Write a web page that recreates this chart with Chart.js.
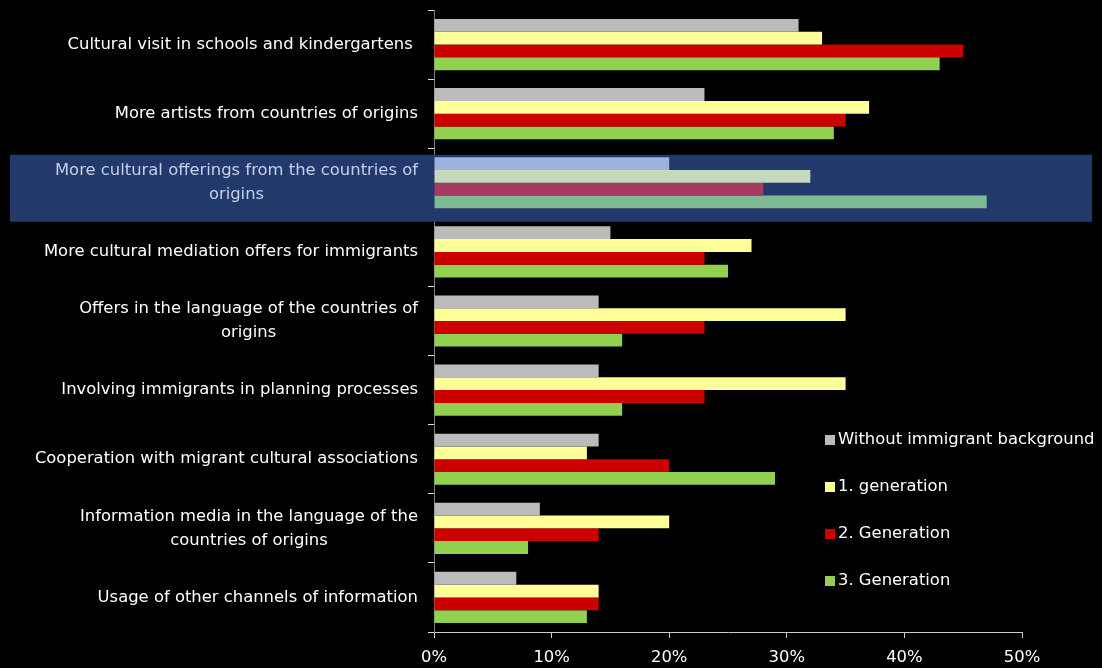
<!DOCTYPE html>
<html>
<head>
<meta charset="UTF-8" />
<script src="https://cdn.jsdelivr.net/npm/chart.js"></script>
<style>
  html, body { margin: 0; padding: 0; background: #000; }
  canvas { display: block; }
</style>
</head>
<body>
<canvas id="myChart" width="1102" height="668"></canvas>
<script>
  const categories = [
    ["Cultural visit in schools and kindergartens "],
    ["More artists from countries of origins"],
    ["More cultural offerings from the countries of", "origins"],
    ["More cultural mediation offers for immigrants"],
    ["Offers in the language of the countries of", "origins"],
    ["Involving immigrants in planning processes"],
    ["Cooperation with migrant cultural associations"],
    ["Information media in the language of the", "countries of origins"],
    ["Usage of other channels of information"],
  ];
  const seriesNames = ["Without immigrant background", "1. generation", "2. Generation", "3. Generation"];
  const withoutBackground = [31, 23, 20, 15, 14, 14, 14, 9, 7];
  const firstGeneration = [33, 37, 32, 27, 35, 35, 13, 20, 14];
  const secondGeneration = [45, 35, 28, 23, 23, 23, 20, 14, 14];
  const thirdGeneration = [43, 34, 47, 25, 16, 16, 29, 8, 13];
  const xTicks = [0, 10, 20, 30, 40, 50];

  const highlighted = 2;
  const baseColors = ["#bbbbbb", "#ffff99", "#cc0000", "#92d050"];
  const highlightColors = ["#9fb2dd", "#c6d9bf", "#a63a5f", "#7fbb92"];
  const FONT = "'DejaVu Sans', Verdana, sans-serif";
  const FONT_SIZE = 16.4;

  function colorsFor(i) {
    return categories.map((_, c) => (c === highlighted ? highlightColors[i] : baseColors[i]));
  }

  const values = [withoutBackground, firstGeneration, secondGeneration, thirdGeneration];

  // dark band behind the highlighted category
  const highlightBand = {
    id: "highlightBand",
    beforeDatasetsDraw(chart) {
      const y = chart.scales.y;
      const cy = y.getPixelForValue(highlighted);
      const ctx = chart.ctx;
      ctx.save();
      ctx.fillStyle = "#22396b";
      ctx.fillRect(10, cy - 28, 1082, 67);
      ctx.restore();
    },
  };

  // category labels: block right-aligned, lines centred inside the block
  const categoryLabels = {
    id: "categoryLabels",
    afterDraw(chart) {
      const y = chart.scales.y;
      const ctx = chart.ctx;
      ctx.save();
      ctx.font = FONT_SIZE + "px " + FONT;
      ctx.textBaseline = "middle";
      ctx.textAlign = "center";
      const right = 418;
      const lineH = 24;
      categories.forEach((lines, i) => {
        const cy = y.getPixelForTick(i);
        const w = Math.max(...lines.map(l => ctx.measureText(l).width));
        const cx = right - w / 2;
        ctx.fillStyle = i === highlighted ? "#c5cfe8" : "#ffffff";
        lines.forEach((l, k) => {
          ctx.fillText(l, cx, cy + (k - (lines.length - 1) / 2) * lineH);
        });
      });
      ctx.restore();
    },
  };

  // legend placed inside the plot, lower right
  const sideLegend = {
    id: "sideLegend",
    afterDraw(chart) {
      const ctx = chart.ctx;
      ctx.save();
      ctx.font = FONT_SIZE + "px " + FONT;
      ctx.textBaseline = "middle";
      ctx.textAlign = "left";
      chart.data.datasets.forEach((ds, i) => {
        const yy = 440 + i * 47;
        ctx.fillStyle = baseColors[i];
        ctx.fillRect(825, yy - 5, 10, 10);
        ctx.fillStyle = "#ffffff";
        ctx.fillText(ds.label, 838, yy);
      });
      ctx.restore();
    },
  };

  const config = {
    type: "bar",
    data: {
      labels: categories,
      datasets: seriesNames.map((name, i) => ({
        label: name,
        data: values[i],
        backgroundColor: colorsFor(i),
        borderWidth: 0,
        barPercentage: 1,
        categoryPercentage: 0.74,
      })),
    },
    options: {
      indexAxis: "y",
      responsive: false,
      animation: false,
      layout: { padding: { top: 10, right: 80, left: 0, bottom: 0 } },
      scales: {
        x: {
          min: 0,
          max: 50,
          afterBuildTicks: scale => {
            scale.ticks = xTicks.map(v => ({ value: v }));
          },
          afterFit: scale => {
            scale.height = 36;
          },
          border: { color: "#cccccc", width: 1 },
          grid: { drawOnChartArea: false, drawTicks: true, tickLength: 6, color: "#cccccc" },
          ticks: {
            color: "#ffffff",
            font: { family: FONT, size: FONT_SIZE },
            padding: 10,
            callback: v => v + "%",
          },
        },
        y: {
          afterFit: scale => {
            scale.width = 434;
          },
          border: { color: "#808080", width: 1 },
          grid: { drawOnChartArea: false, drawTicks: true, tickLength: 6, color: "#dddddd", offset: true },
          ticks: { display: false },
        },
      },
      plugins: {
        legend: { display: false },
        tooltip: { enabled: false },
      },
    },
    plugins: [highlightBand, categoryLabels, sideLegend],
  };

  new Chart(document.getElementById("myChart"), config);
</script>
</body>
</html>
